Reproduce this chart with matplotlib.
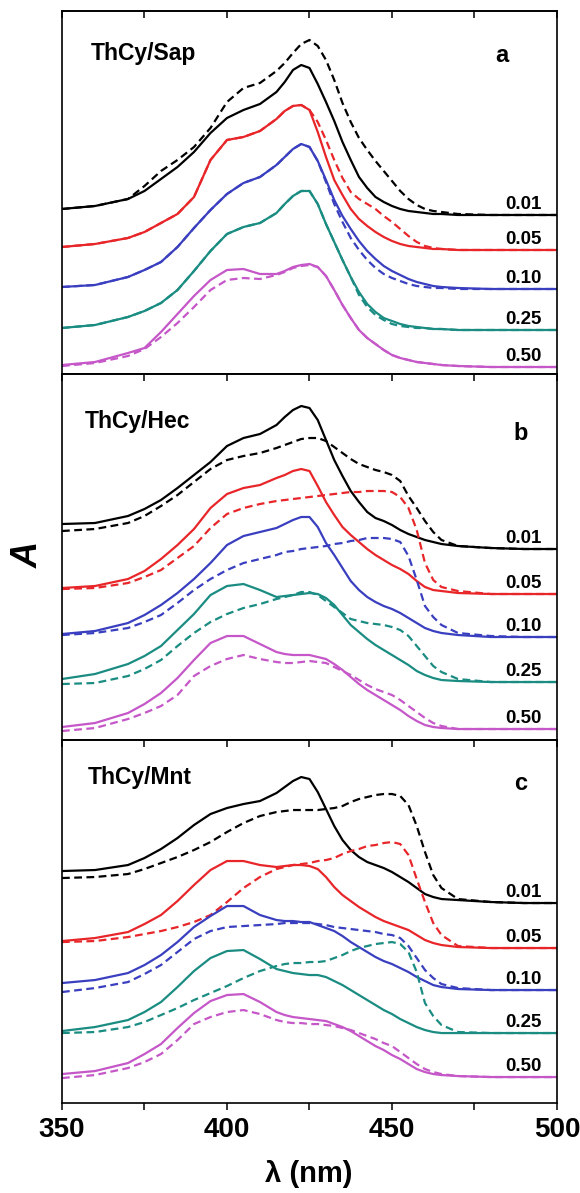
import numpy as np
import matplotlib
matplotlib.use("Agg")
import matplotlib.pyplot as plt
from matplotlib.ticker import MultipleLocator

plt.rcParams['font.family'] = ['Liberation Sans', 'DejaVu Sans']
plt.rcParams['font.weight'] = 'bold'
plt.rcParams['lines.solid_joinstyle'] = 'round'
plt.rcParams['lines.dash_joinstyle'] = 'round'

# wavelength grid (nm)
wl = [350, 360, 370, 375, 380, 385, 390, 395, 400, 405, 410,
      415, 417.5, 420, 422.5, 425, 427.5, 430, 432.5, 435, 437.5, 440,
      442.5, 445, 447.5, 450, 452.5, 455, 457.5, 460, 462.5, 465,
      470, 480, 490, 500]

loadings = ['0.01', '0.05', '0.10', '0.25', '0.50']
colors = ['#000000', '#e8262a', '#3a3fc0', '#1a8c82', '#c557c8']

# stacked absorbance spectra (offset per loading), solid = fresh, dashed = aged
sap_solid = [
    [1.65, 1.68, 1.75, 1.83, 1.95, 2.07, 2.22, 2.41, 2.56, 2.64, 2.70, 2.82, 2.92, 3.04, 3.09, 3.06, 2.90, 2.72, 2.53, 2.32, 2.14, 1.97, 1.86, 1.77, 1.72, 1.68, 1.65, 1.63, 1.62, 1.61, 1.60, 1.60, 1.59, 1.59, 1.59, 1.59],
    [1.27, 1.30, 1.36, 1.42, 1.51, 1.60, 1.77, 2.14, 2.34, 2.37, 2.43, 2.55, 2.63, 2.68, 2.69, 2.64, 2.42, 2.17, 1.94, 1.79, 1.65, 1.55, 1.48, 1.42, 1.37, 1.33, 1.30, 1.28, 1.27, 1.26, 1.25, 1.25, 1.24, 1.24, 1.24, 1.24],
    [0.87, 0.89, 0.97, 1.04, 1.12, 1.27, 1.46, 1.64, 1.80, 1.91, 1.97, 2.09, 2.17, 2.25, 2.30, 2.27, 2.13, 1.94, 1.74, 1.58, 1.45, 1.33, 1.23, 1.15, 1.08, 1.03, 0.99, 0.95, 0.92, 0.90, 0.88, 0.87, 0.86, 0.85, 0.85, 0.85],
    [0.46, 0.49, 0.57, 0.63, 0.71, 0.84, 1.03, 1.23, 1.40, 1.47, 1.51, 1.61, 1.70, 1.78, 1.83, 1.83, 1.70, 1.50, 1.32, 1.14, 0.97, 0.82, 0.70, 0.62, 0.56, 0.53, 0.50, 0.48, 0.47, 0.46, 0.45, 0.45, 0.44, 0.44, 0.44, 0.44],
    [0.09, 0.12, 0.21, 0.26, 0.42, 0.60, 0.78, 0.94, 1.04, 1.05, 1.00, 1.00, 1.03, 1.07, 1.09, 1.10, 1.07, 0.98, 0.84, 0.69, 0.56, 0.44, 0.36, 0.30, 0.24, 0.19, 0.16, 0.14, 0.12, 0.11, 0.10, 0.09, 0.08, 0.07, 0.07, 0.07],
]
sap_dashed = [
    [1.65, 1.68, 1.75, 1.88, 2.03, 2.14, 2.27, 2.46, 2.72, 2.86, 2.91, 3.03, 3.11, 3.21, 3.30, 3.34, 3.28, 3.14, 2.94, 2.71, 2.52, 2.36, 2.24, 2.13, 2.03, 1.93, 1.83, 1.75, 1.69, 1.65, 1.63, 1.62, 1.60, 1.59, 1.59, 1.59],
    [1.27, 1.30, 1.36, 1.42, 1.51, 1.60, 1.77, 2.14, 2.34, 2.37, 2.43, 2.55, 2.63, 2.68, 2.69, 2.64, 2.52, 2.34, 2.14, 1.96, 1.82, 1.75, 1.70, 1.65, 1.58, 1.52, 1.45, 1.38, 1.32, 1.28, 1.26, 1.25, 1.24, 1.24, 1.24, 1.24],
    [0.87, 0.89, 0.97, 1.04, 1.12, 1.27, 1.46, 1.64, 1.80, 1.91, 1.97, 2.09, 2.17, 2.25, 2.30, 2.27, 2.13, 1.92, 1.70, 1.52, 1.36, 1.24, 1.14, 1.06, 1.00, 0.96, 0.93, 0.90, 0.88, 0.87, 0.86, 0.86, 0.85, 0.85, 0.85, 0.85],
    [0.46, 0.49, 0.57, 0.63, 0.71, 0.84, 1.03, 1.23, 1.40, 1.47, 1.51, 1.61, 1.70, 1.78, 1.83, 1.83, 1.70, 1.50, 1.32, 1.14, 0.97, 0.79, 0.67, 0.59, 0.54, 0.50, 0.48, 0.47, 0.46, 0.46, 0.45, 0.45, 0.44, 0.44, 0.44, 0.44],
    [0.08, 0.11, 0.18, 0.25, 0.37, 0.51, 0.67, 0.84, 0.94, 0.96, 0.95, 0.99, 1.02, 1.06, 1.08, 1.09, 1.07, 0.98, 0.84, 0.69, 0.56, 0.44, 0.36, 0.30, 0.24, 0.19, 0.16, 0.14, 0.12, 0.11, 0.10, 0.09, 0.08, 0.07, 0.07, 0.07],
]

hec_solid = [
    [2.16, 2.17, 2.24, 2.31, 2.40, 2.52, 2.65, 2.78, 2.94, 3.02, 3.06, 3.15, 3.23, 3.30, 3.34, 3.32, 3.20, 3.00, 2.80, 2.64, 2.49, 2.38, 2.28, 2.22, 2.19, 2.15, 2.10, 2.06, 2.03, 2.00, 1.98, 1.96, 1.94, 1.92, 1.91, 1.91],
    [1.52, 1.54, 1.61, 1.69, 1.81, 1.95, 2.11, 2.32, 2.46, 2.52, 2.55, 2.62, 2.65, 2.69, 2.71, 2.69, 2.54, 2.38, 2.25, 2.13, 2.05, 1.98, 1.91, 1.85, 1.80, 1.75, 1.71, 1.66, 1.59, 1.53, 1.50, 1.49, 1.47, 1.46, 1.46, 1.46],
    [1.06, 1.09, 1.17, 1.25, 1.35, 1.47, 1.61, 1.77, 1.95, 2.04, 2.08, 2.12, 2.16, 2.20, 2.23, 2.23, 2.13, 1.97, 1.85, 1.72, 1.59, 1.50, 1.43, 1.38, 1.34, 1.31, 1.27, 1.22, 1.17, 1.12, 1.09, 1.07, 1.05, 1.03, 1.03, 1.03],
    [0.61, 0.66, 0.76, 0.84, 0.94, 1.10, 1.26, 1.45, 1.54, 1.56, 1.50, 1.43, 1.44, 1.45, 1.46, 1.47, 1.46, 1.42, 1.35, 1.25, 1.15, 1.08, 1.01, 0.95, 0.90, 0.85, 0.80, 0.75, 0.69, 0.65, 0.62, 0.60, 0.59, 0.58, 0.58, 0.58],
    [0.13, 0.17, 0.27, 0.36, 0.47, 0.62, 0.80, 0.97, 1.04, 1.04, 0.96, 0.88, 0.86, 0.85, 0.85, 0.85, 0.83, 0.81, 0.76, 0.70, 0.63, 0.56, 0.50, 0.45, 0.40, 0.35, 0.30, 0.24, 0.19, 0.15, 0.13, 0.12, 0.11, 0.11, 0.11, 0.11],
]
hec_dashed = [
    [2.09, 2.11, 2.17, 2.24, 2.34, 2.45, 2.58, 2.71, 2.80, 2.84, 2.87, 2.92, 2.95, 2.98, 3.01, 3.02, 3.02, 2.99, 2.93, 2.87, 2.81, 2.76, 2.73, 2.70, 2.68, 2.65, 2.59, 2.44, 2.32, 2.19, 2.08, 2.00, 1.94, 1.92, 1.91, 1.91],
    [1.51, 1.52, 1.57, 1.63, 1.70, 1.82, 1.94, 2.12, 2.26, 2.32, 2.36, 2.39, 2.40, 2.41, 2.42, 2.43, 2.44, 2.45, 2.46, 2.47, 2.48, 2.48, 2.49, 2.49, 2.49, 2.48, 2.43, 2.32, 2.10, 1.77, 1.60, 1.53, 1.49, 1.46, 1.46, 1.46],
    [1.05, 1.07, 1.12, 1.18, 1.25, 1.37, 1.50, 1.61, 1.70, 1.77, 1.81, 1.85, 1.88, 1.89, 1.91, 1.92, 1.93, 1.94, 1.96, 1.97, 1.99, 2.00, 2.02, 2.02, 2.02, 2.01, 1.98, 1.84, 1.60, 1.34, 1.23, 1.15, 1.07, 1.04, 1.03, 1.03],
    [0.56, 0.57, 0.64, 0.71, 0.80, 0.94, 1.07, 1.18, 1.26, 1.32, 1.36, 1.41, 1.43, 1.45, 1.48, 1.48, 1.45, 1.39, 1.33, 1.27, 1.21, 1.19, 1.17, 1.16, 1.15, 1.13, 1.10, 1.04, 0.94, 0.84, 0.74, 0.68, 0.61, 0.58, 0.58, 0.58],
    [0.09, 0.12, 0.21, 0.27, 0.34, 0.45, 0.64, 0.74, 0.81, 0.85, 0.81, 0.78, 0.77, 0.77, 0.78, 0.79, 0.78, 0.77, 0.73, 0.69, 0.65, 0.60, 0.55, 0.51, 0.48, 0.45, 0.40, 0.34, 0.28, 0.22, 0.17, 0.14, 0.11, 0.11, 0.11, 0.11],
]

mnt_solid = [
    [2.32, 2.33, 2.38, 2.45, 2.54, 2.65, 2.78, 2.89, 2.95, 2.99, 3.02, 3.10, 3.16, 3.22, 3.26, 3.24, 3.11, 2.94, 2.77, 2.63, 2.53, 2.46, 2.41, 2.38, 2.35, 2.31, 2.26, 2.21, 2.15, 2.09, 2.06, 2.04, 2.03, 2.01, 2.00, 2.00],
    [1.62, 1.65, 1.71, 1.79, 1.88, 2.02, 2.18, 2.33, 2.42, 2.42, 2.38, 2.36, 2.37, 2.38, 2.38, 2.37, 2.34, 2.26, 2.16, 2.08, 2.02, 1.96, 1.91, 1.86, 1.82, 1.79, 1.76, 1.73, 1.68, 1.63, 1.60, 1.58, 1.56, 1.55, 1.55, 1.55],
    [1.20, 1.23, 1.30, 1.38, 1.48, 1.61, 1.76, 1.87, 1.97, 1.97, 1.88, 1.83, 1.82, 1.82, 1.81, 1.81, 1.78, 1.75, 1.72, 1.67, 1.61, 1.56, 1.51, 1.46, 1.42, 1.39, 1.35, 1.31, 1.26, 1.22, 1.18, 1.16, 1.14, 1.13, 1.13, 1.13],
    [0.72, 0.76, 0.83, 0.91, 1.01, 1.16, 1.32, 1.45, 1.52, 1.53, 1.44, 1.34, 1.32, 1.30, 1.29, 1.28, 1.28, 1.26, 1.22, 1.18, 1.13, 1.08, 1.03, 0.98, 0.93, 0.89, 0.84, 0.80, 0.76, 0.73, 0.71, 0.70, 0.70, 0.70, 0.70, 0.70],
    [0.29, 0.32, 0.40, 0.49, 0.59, 0.75, 0.90, 1.02, 1.08, 1.09, 1.01, 0.91, 0.88, 0.86, 0.85, 0.84, 0.83, 0.82, 0.79, 0.76, 0.72, 0.67, 0.62, 0.57, 0.53, 0.48, 0.44, 0.39, 0.34, 0.31, 0.29, 0.28, 0.27, 0.26, 0.26, 0.26],
]
mnt_dashed = [
    [2.25, 2.26, 2.29, 2.34, 2.40, 2.46, 2.53, 2.61, 2.71, 2.80, 2.87, 2.91, 2.92, 2.93, 2.93, 2.93, 2.93, 2.94, 2.95, 2.97, 3.01, 3.04, 3.06, 3.08, 3.09, 3.09, 3.07, 2.98, 2.77, 2.51, 2.28, 2.15, 2.04, 2.01, 2.00, 2.00],
    [1.61, 1.62, 1.66, 1.69, 1.72, 1.76, 1.81, 1.88, 2.01, 2.15, 2.26, 2.34, 2.36, 2.38, 2.39, 2.40, 2.42, 2.43, 2.45, 2.49, 2.52, 2.54, 2.57, 2.58, 2.60, 2.61, 2.59, 2.48, 2.24, 2.01, 1.80, 1.68, 1.57, 1.55, 1.55, 1.55],
    [1.11, 1.15, 1.21, 1.29, 1.38, 1.51, 1.64, 1.72, 1.76, 1.77, 1.78, 1.79, 1.80, 1.80, 1.80, 1.80, 1.79, 1.78, 1.76, 1.75, 1.74, 1.73, 1.72, 1.71, 1.69, 1.68, 1.65, 1.57, 1.45, 1.33, 1.25, 1.19, 1.15, 1.13, 1.13, 1.13],
    [0.70, 0.71, 0.76, 0.81, 0.88, 0.95, 1.03, 1.10, 1.17, 1.25, 1.32, 1.37, 1.39, 1.40, 1.40, 1.41, 1.41, 1.42, 1.45, 1.48, 1.52, 1.55, 1.57, 1.59, 1.60, 1.61, 1.59, 1.51, 1.31, 1.00, 0.87, 0.78, 0.71, 0.70, 0.70, 0.70],
    [0.25, 0.28, 0.35, 0.41, 0.49, 0.63, 0.79, 0.86, 0.91, 0.93, 0.89, 0.83, 0.81, 0.80, 0.80, 0.79, 0.79, 0.78, 0.77, 0.75, 0.73, 0.70, 0.67, 0.64, 0.60, 0.57, 0.51, 0.45, 0.39, 0.34, 0.31, 0.29, 0.27, 0.26, 0.26, 0.26],
]

panels = [
    ('ThCy/Sap', 'a', sap_solid, sap_dashed, 3.63),
    ('ThCy/Hec', 'b', hec_solid, hec_dashed, 3.66),
    ('ThCy/Mnt', 'c', mnt_solid, mnt_dashed, 3.63),
]

fig = plt.figure(figsize=(5.8, 11.93), dpi=100)
left, width = 0.1069, 0.8534
boxes = [(0.6865, 0.3043), (0.3797, 0.3068), (0.0754, 0.3043)]
title_pos = [(0.059, 0.865), (0.046, 0.852), (0.053, 0.879)]
letter_pos = [(0.889, 0.860), (0.927, 0.820), (0.927, 0.862)]

for i, (name, letter, solid, dashed, ytop) in enumerate(panels):
    ax = fig.add_axes([left, boxes[i][0], width, boxes[i][1]])
    for j in range(len(loadings)):
        ax.plot(wl, dashed[j], color=colors[j], lw=1.6, linestyle=(0, (3.5, 2)))
        ax.plot(wl, solid[j], color=colors[j], lw=1.6)
        ax.annotate(loadings[j], (495.5, solid[j][-1]), xytext=(0, 4),
                    textcoords='offset points', ha='right', va='baseline',
                    fontsize=13.5, fontweight='bold')

    ax.set_xlim(350, 500)
    ax.set_ylim(0, ytop)
    ax.set_yticks([])
    ax.xaxis.set_major_locator(MultipleLocator(50))
    ax.xaxis.set_minor_locator(MultipleLocator(25))
    ax.tick_params(axis='x', which='both', direction='out', length=5,
                   width=1.1, top=False, labelbottom=(i == 2),
                   labelsize=20, pad=5)
    for s in ax.spines.values():
        s.set_linewidth(1.2)

    top = ax.secondary_xaxis('top')
    top.xaxis.set_major_locator(MultipleLocator(50))
    top.xaxis.set_minor_locator(MultipleLocator(25))
    top.tick_params(which='both', direction='in', length=5, width=1.1,
                    labeltop=False)
    top.spines['top'].set_linewidth(1.2)

    ax.text(*title_pos[i], name, transform=ax.transAxes, ha='left',
            va='baseline', fontsize=16.5, fontweight='bold')
    ax.text(*letter_pos[i], letter, transform=ax.transAxes, ha='center',
            va='baseline', fontsize=17, fontweight='bold')

    if i == 2:
        for lab in ax.get_xticklabels():
            lab.set_fontweight('bold')

fig.text(0.048, 0.535, 'A', rotation=90, ha='center', va='center',
         fontsize=26, fontweight='bold', fontstyle='italic')
fig.text(0.533, 0.0275, 'λ (nm)', ha='center', va='top', fontsize=21,
         fontweight='bold')

fig.savefig('out.png', dpi=100)
